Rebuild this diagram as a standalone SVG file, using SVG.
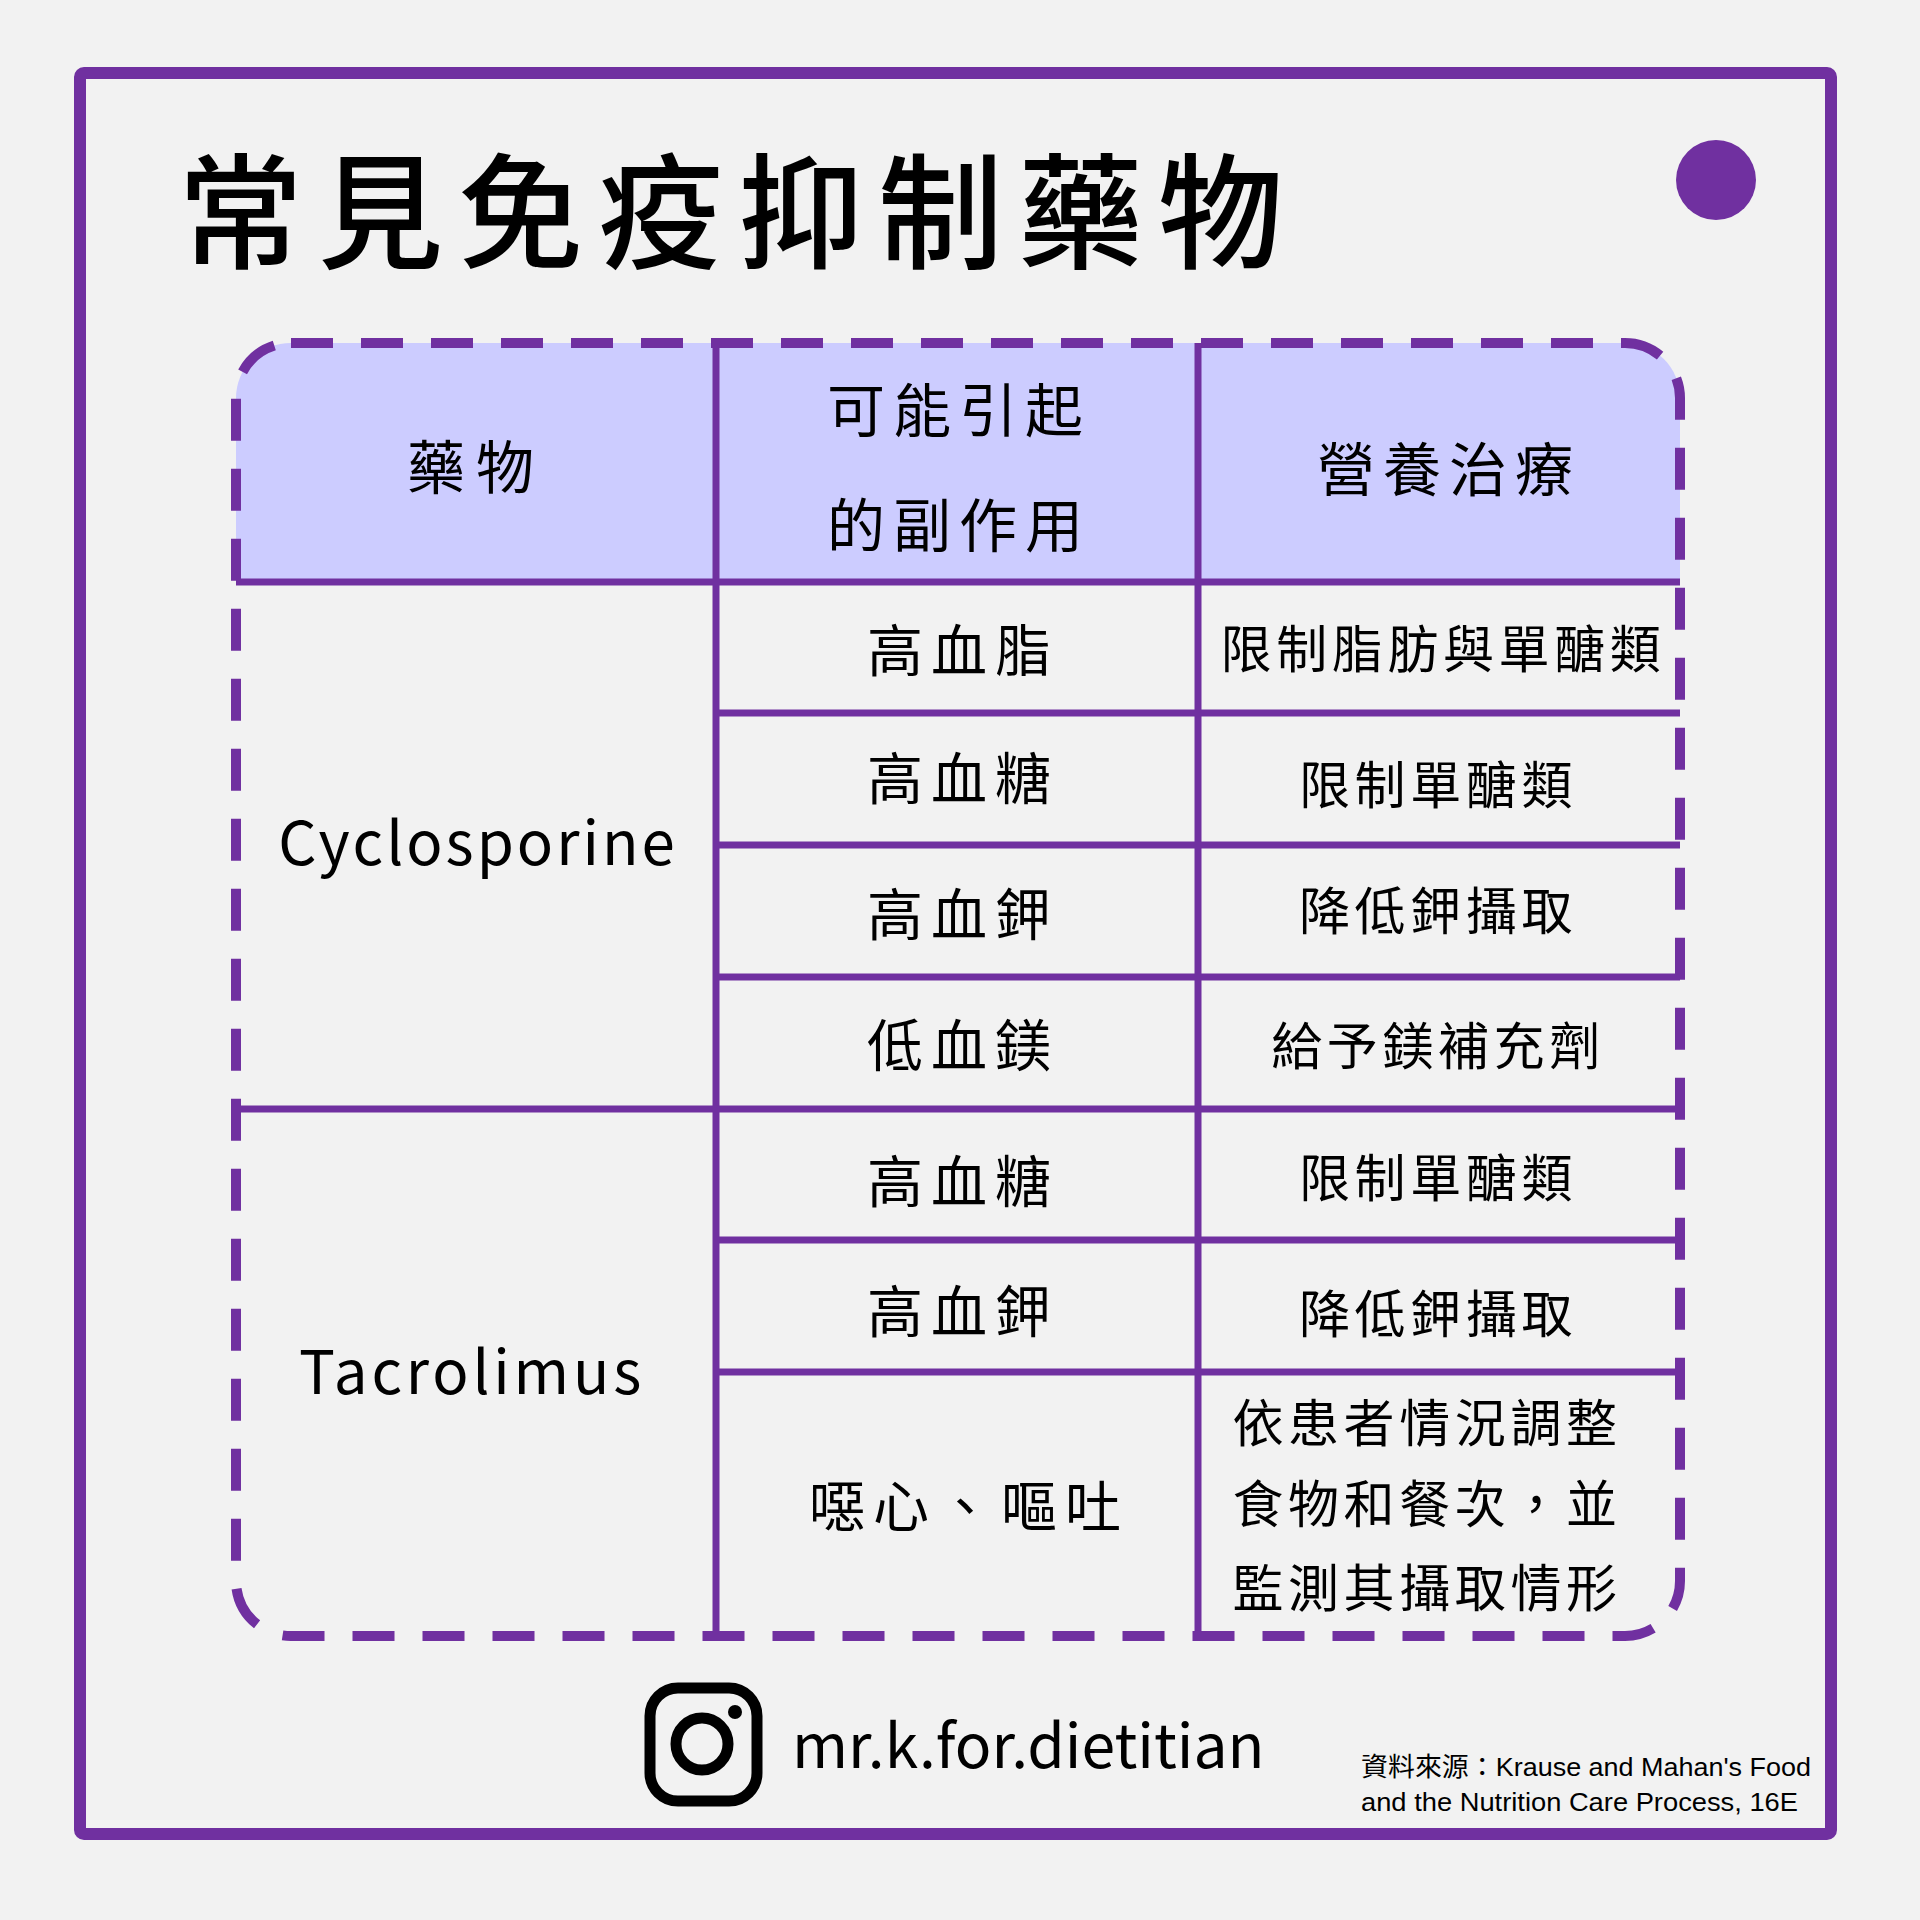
<svg xmlns="http://www.w3.org/2000/svg" width="1920" height="1920" viewBox="0 0 1920 1920">
<style>
.t{font-family:"Noto Sans CJK TC","Noto Sans CJK SC",sans-serif;fill:#000;text-anchor:middle}
.hd{font-size:58px;letter-spacing:8px}
.c2{font-size:56px;letter-spacing:8px}
.c3{font-size:51px;letter-spacing:4.6px}
.lat{font-size:60px;letter-spacing:3px}
.ln{stroke:#7030A0;stroke-width:7;fill:none}
.src{font-family:"Liberation Sans","Noto Sans CJK TC",sans-serif;font-size:26px;text-anchor:start}
</style>
<rect width="1920" height="1920" fill="#F2F2F2"/>
<g id="frame">
<rect x="80" y="73" width="1751" height="1761" rx="4" fill="none" stroke="#7030A0" stroke-width="12"/>
<circle cx="1716" cy="180" r="40" fill="#7030A0"/>
</g>
<g id="title">
<text class="t" x="738" y="259" style="font-size:125px;font-weight:500;letter-spacing:15px">常見免疫抑制藥物</text>
</g>
<g id="table">
<path d="M236,582 V398 A55,55 0 0 1 291,343 H1625 A55,55 0 0 1 1680,398 V582 Z" fill="#CCCCFF"/>
<g id="connectors">
<line class="ln" x1="236" y1="582" x2="1680" y2="582"/>
<line class="ln" x1="716" y1="713" x2="1680" y2="713"/>
<line class="ln" x1="716" y1="845" x2="1680" y2="845"/>
<line class="ln" x1="716" y1="977" x2="1680" y2="977"/>
<line class="ln" x1="236" y1="1109" x2="1680" y2="1109"/>
<line class="ln" x1="716" y1="1240" x2="1680" y2="1240"/>
<line class="ln" x1="716" y1="1372" x2="1680" y2="1372"/>
<line class="ln" x1="716" y1="343" x2="716" y2="1636"/>
<line class="ln" x1="1198" y1="343" x2="1198" y2="1636"/>
</g>
<rect x="236" y="343" width="1444" height="1293" rx="55" fill="none" stroke="#7030A0" stroke-width="10" stroke-dasharray="42 28"/>
</g>
<g id="header">
<text class="t hd" x="476" y="489" style="letter-spacing:11px">藥物</text>
<text class="t hd" x="959" y="432">可能引起</text>
<text class="t hd" x="959" y="547">的副作用</text>
<text class="t hd" x="1449" y="491">營養治療</text>
</g>
<g id="drug-cyclosporine">
<text class="t lat" x="478" y="865">Cyclosporine</text>
</g>
<g id="drug-tacrolimus">
<text class="t lat" x="472" y="1394" style="letter-spacing:3.8px">Tacrolimus</text>
</g>
<g id="side-effects">
<text class="t c2" x="963" y="671">高血脂</text>
<text class="t c2" x="963" y="799">高血糖</text>
<text class="t c2" x="963" y="935">高血鉀</text>
<text class="t c2" x="963" y="1066">低血鎂</text>
<text class="t c2" x="963" y="1202">高血糖</text>
<text class="t c2" x="963" y="1332">高血鉀</text>
<text class="t c2" x="969" y="1527">噁心、嘔吐</text>
</g>
<g id="therapy">
<text class="t c3" x="1443" y="668">限制脂肪與單醣類</text>
<text class="t c3" x="1438" y="804">限制單醣類</text>
<text class="t c3" x="1438" y="930">降低鉀攝取</text>
<text class="t c3" x="1438" y="1065">給予鎂補充劑</text>
<text class="t c3" x="1438" y="1197">限制單醣類</text>
<text class="t c3" x="1438" y="1333">降低鉀攝取</text>
<text class="t c3" x="1427" y="1442">依患者情況調整</text>
<text class="t c3" x="1427" y="1523">食物和餐次，並</text>
<text class="t c3" x="1427" y="1607">監測其攝取情形</text>
</g>
<g id="footer">
<g id="instagram-icon" fill="none" stroke="#000" stroke-width="11">
<rect x="650" y="1688" width="107" height="113" rx="28"/>
<circle cx="702" cy="1744" r="26"/>
<circle cx="735" cy="1712" r="7" fill="#000" stroke="none"/>
</g>
<text class="t" x="792" y="1768" style="font-size:60.6px;text-anchor:start">mr.k.for.dietitian</text>
<text class="src" x="1361" y="1776" textLength="450" lengthAdjust="spacingAndGlyphs">資料來源：Krause and Mahan's Food</text>
<text class="src" x="1361" y="1811" textLength="437" lengthAdjust="spacingAndGlyphs">and the Nutrition Care Process, 16E</text>
</g>
</svg>
